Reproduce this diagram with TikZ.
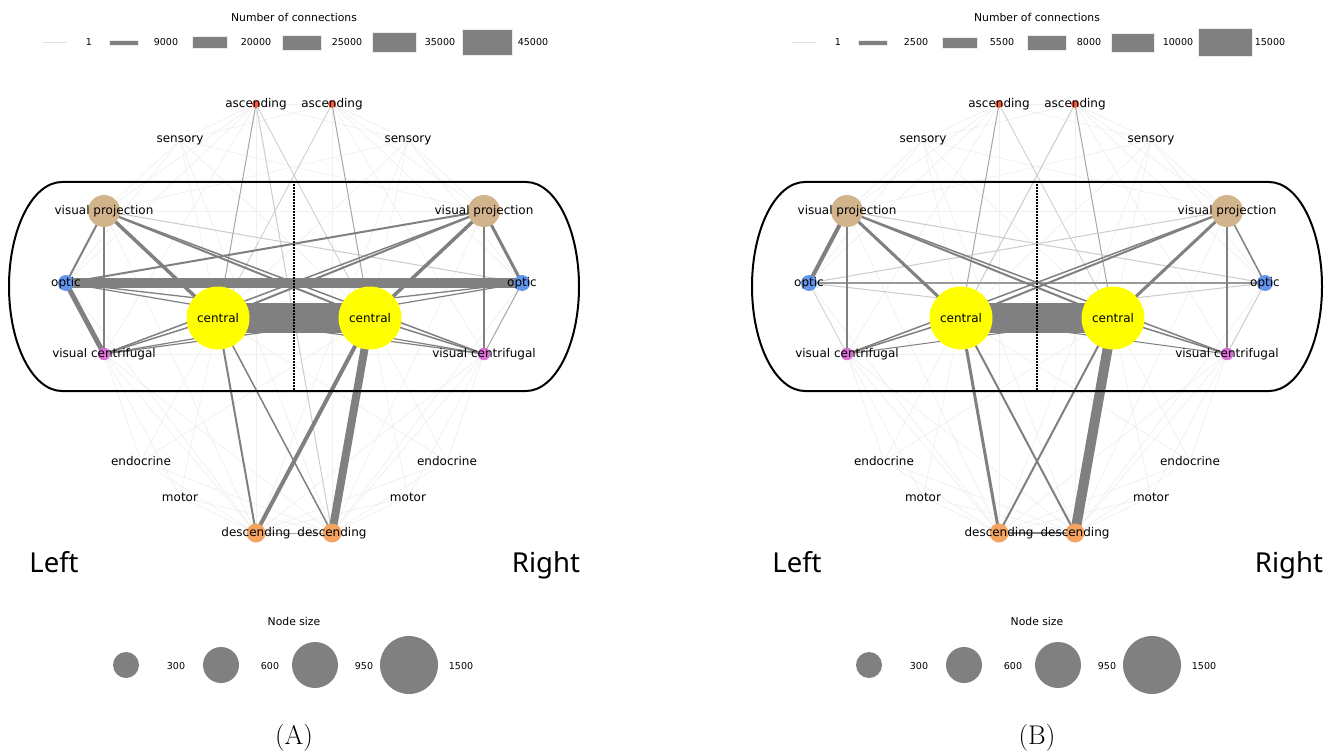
\documentclass[tikz,border=0pt]{standalone}
\usepackage{fontspec}
\newfontfamily\dv{DejaVu Sans}
\newfontfamily\noto{Noto Sans}
\definecolor{eg}{HTML}{808080}
\definecolor{sg}{HTML}{A6A6A6}
\definecolor{lgc}{HTML}{CCCCCC}
\definecolor{fgc}{HTML}{F0F0F0}
\definecolor{ascc}{HTML}{F25C3C}
\definecolor{vpc}{HTML}{D2B48C}
\definecolor{optc}{HTML}{6495ED}
\definecolor{cenc}{HTML}{FFFF00}
\definecolor{vcc}{HTML}{DA70D6}
\definecolor{desc}{HTML}{F4A460}
\pgfdeclarelayer{bglayer}
\pgfdeclarelayer{edgelayer}
\pgfsetlayers{bglayer,edgelayer,main}
\tikzset{
  nd/.style={circle,inner sep=0pt,minimum size=#1,draw=none},
  lbl/.style={font=\dv\fontsize{12}{14}\selectfont,inner sep=0pt,text=black},
  ttl/.style={font=\dv\fontsize{10.8}{13}\selectfont,inner sep=0pt,text=black},
  num/.style={font=\dv\fontsize{9.5}{11}\selectfont,inner sep=0pt,text=black},
  side/.style={font=\noto\fontsize{27.5}{32}\selectfont,inner sep=0pt,anchor=base,text=black},
  capt/.style={font=\fontsize{27}{32}\selectfont,inner sep=0pt,text=black},
  ed/.style={draw=eg,line width=#1pt},
  se/.style={draw=sg,line width=#1pt},
  le/.style={draw=lgc,line width=#1pt},
  fe/.style={draw=fgc,line width=0.7pt},
  lgbar/.style={fill=eg,draw=white!85!eg,line width=0.6pt},
  lgdot/.style={circle,inner sep=0pt,minimum size=#1,fill=eg,draw=none},
  frame/.style={draw=black,line width=2pt},
  midline/.style={draw=black,line width=1.6pt,dash pattern=on 1.6pt off 1.4pt}
}
\newcommand\cnx[4]{\draw[#4] (#1#2.center) -- (#1#3.center);}
\newcommand\netnodes[1]{%
  \node[nd=8pt,fill=ascc] (#1aL) at (256,104) {};
  \node[nd=8pt,fill=ascc] (#1aR) at (332,104) {};
  \node[nd=32pt,fill=vpc] (#1vpL) at (104,211) {};
  \node[nd=32pt,fill=vpc] (#1vpR) at (484,211) {};
  \node[nd=16pt,fill=optc] (#1oL) at (66,283) {};
  \node[nd=16pt,fill=optc] (#1oR) at (522,283) {};
  \node[nd=63pt,fill=cenc] (#1cL) at (218,318) {};
  \node[nd=63pt,fill=cenc] (#1cR) at (370,318) {};
  \node[nd=12.5pt,fill=vcc] (#1vcL) at (104,354) {};
  \node[nd=12.5pt,fill=vcc] (#1vcR) at (484,354) {};
  \node[nd=19pt,fill=desc] (#1dL) at (256,533) {};
  \node[nd=19pt,fill=desc] (#1dR) at (332,533) {};
  \node[lbl] (#1aLt) at (#1aL) {ascending};
  \node[lbl] (#1aRt) at (#1aR) {ascending};
  \node[lbl] (#1sL) at (180,140) {sensory};
  \node[lbl] (#1sR) at (408,140) {sensory};
  \node[lbl] (#1vpLt) at (#1vpL) {visual projection};
  \node[lbl] (#1vpRt) at (#1vpR) {visual projection};
  \node[lbl] (#1oLt) at (#1oL) {optic};
  \node[lbl] (#1oRt) at (#1oR) {optic};
  \node[lbl] (#1cLt) at (#1cL) {central};
  \node[lbl] (#1cRt) at (#1cR) {central};
  \node[lbl] (#1vcLt) at (#1vcL) {visual centrifugal};
  \node[lbl] (#1vcRt) at (#1vcR) {visual centrifugal};
  \node[lbl] (#1eL) at (141,461) {endocrine};
  \node[lbl] (#1eR) at (447,461) {endocrine};
  \node[lbl] (#1mL) at (180,497) {motor};
  \node[lbl] (#1mR) at (408,497) {motor};
  \node[lbl] (#1dLt) at (#1dL) {descending};
  \node[lbl] (#1dRt) at (#1dR) {descending};
  \node[side] (#1left) at (54,572) {Left};
  \node[side] (#1right) at (546,572) {Right};
  \draw[frame] (62,182) -- (526,182) .. controls (555.3,182) and (579,228.8) .. (579,286.5)
     .. controls (579,344.2) and (555.3,391) .. (526,391) -- (62,391)
     .. controls (32.7,391) and (9,344.2) .. (9,286.5)
     .. controls (9,228.8) and (32.7,182) .. (62,182) -- cycle;
  \draw[midline] (294,184) -- (294,390);
  \node[ttl] (#1nst) at (294,621) {Node size};
  \node[lgdot=26pt] (#1ns1) at (126,665) {};
  \node[num] (#1ns1t) at (176,666) {300};
  \node[lgdot=36pt] (#1ns2) at (221,665) {};
  \node[num] (#1ns2t) at (270,666) {600};
  \node[lgdot=46pt] (#1ns3) at (315,665) {};
  \node[num] (#1ns3t) at (364,666) {950};
  \node[lgdot=58pt] (#1ns4) at (409,665) {};
  \node[num] (#1ns4t) at (461,666) {1500};
  \node[ttl] (#1nct) at (294,17) {Number of connections};
}
\newcommand\faintedges[1]{%
  \foreach \u/\v in {aL/aR,aL/sL,aR/sR,aL/sR,aR/sL,aL/vpL,aR/vpR,sL/vpL,sR/vpR,sL/cL,sR/cR,sL/cR,sR/cL,sL/vpR,sR/vpL,aL/dL,aR/dR,aL/vcL,aR/vcR,eL/cL,eR/cR,eL/cR,eR/cL,mL/cL,mR/cR,mL/dL,mR/dR,mL/dR,mR/dL,eL/dL,eR/dR,eL/dR,eR/dL,vpL/vpR,vcL/vcR,vcL/dL,vcR/dR,vcL/dR,vcR/dL,oL/dL,oR/dR,vpL/dL,vpR/dR,eL/vcL,eR/vcR,sL/oL,sR/oR,aL/oL,aR/oR,mL/vcL,mR/vcR,sL/dR,sR/dL}
    {\draw[fe] (#1\u.center) -- (#1\v.center);}
}
\begin{document}
\begin{tikzpicture}[x=1pt,y=-1pt]
\useasboundingbox (0,0) rectangle (1338,754);
\begin{pgfonlayer}{bglayer}
\fill[white] (0,0) rectangle (1338,754);
\end{pgfonlayer}

% ---------------- Panel A ----------------
\netnodes{A-}
\node[capt] (A-cap) at (294,738) {(A)};
\draw[draw=black!12,line width=1pt] (43,42.5) -- (67,42.5);
\node[num] (A-l1) at (89,42.5) {1};
\filldraw[lgbar] (109,40.3) rectangle (138,45);
\node[num] (A-l2) at (166,42.5) {9000};
\filldraw[lgbar] (192,36.7) rectangle (227,48.3);
\node[num] (A-l3) at (256,42.5) {20000};
\filldraw[lgbar] (282,35.3) rectangle (321,50);
\node[num] (A-l4) at (347,42.5) {25000};
\filldraw[lgbar] (372,32.3) rectangle (416,52.7);
\node[num] (A-l5) at (440,42.5) {35000};
\filldraw[lgbar] (462,29.7) rectangle (512,55.7);
\node[num] (A-l6) at (533,42.5) {45000};
\begin{pgfonlayer}{edgelayer}
\faintedges{A-}
\cnx{A-}{vpL}{oR}{le=1}
\cnx{A-}{oR}{vcR}{se=1}
\cnx{A-}{aL}{cL}{se=1}
\cnx{A-}{aR}{cR}{se=1}
\cnx{A-}{aL}{dR}{le=1}
\cnx{A-}{dL}{dR}{se=1}
\cnx{A-}{aR}{cL}{le=0.8}
\cnx{A-}{aL}{cR}{le=0.8}
\cnx{A-}{oL}{oR}{ed=10}
\cnx{A-}{cL}{cR}{ed=30}
\cnx{A-}{vpL}{oL}{ed=2}
\cnx{A-}{vpL}{vcL}{ed=2}
\cnx{A-}{vpL}{cL}{ed=3.5}
\cnx{A-}{vpL}{cR}{ed=2}
\cnx{A-}{vpL}{vcR}{ed=1.5}
\cnx{A-}{oL}{vcL}{ed=5}
\cnx{A-}{oL}{vpR}{ed=2}
\cnx{A-}{oL}{cR}{ed=1.3}
\cnx{A-}{oL}{vcR}{ed=1.2}
\cnx{A-}{vcL}{cL}{ed=1.5}
\cnx{A-}{vcL}{cR}{ed=1.2}
\cnx{A-}{vpR}{oR}{ed=3}
\cnx{A-}{vpR}{vcR}{ed=2}
\cnx{A-}{vpR}{cR}{ed=3.5}
\cnx{A-}{vpR}{cL}{ed=2}
\cnx{A-}{vpR}{vcL}{ed=1.5}
\cnx{A-}{oR}{cL}{ed=1.3}
\cnx{A-}{oR}{vcL}{ed=1.2}
\cnx{A-}{vcR}{cR}{ed=1.5}
\cnx{A-}{vcR}{cL}{ed=1.2}
\cnx{A-}{cL}{dL}{ed=2}
\cnx{A-}{cL}{dR}{ed=1.5}
\cnx{A-}{cR}{dL}{ed=4}
\cnx{A-}{cR}{dR}{ed=8}
\end{pgfonlayer}

% ---------------- Panel B ----------------
\begin{scope}[xshift=743pt]
\netnodes{B-}
\node[capt] (B-cap) at (294,738) {(B)};
\end{scope}
\draw[draw=black!12,line width=1pt] (792,42.5) -- (816,42.5);
\node[num] (B-l1) at (838,42.5) {1};
\filldraw[lgbar] (858,40.3) rectangle (887,45);
\node[num] (B-l2) at (916,42.5) {2500};
\filldraw[lgbar] (942,37.3) rectangle (977,48.3);
\node[num] (B-l3) at (1002,42.5) {5500};
\filldraw[lgbar] (1027,35) rectangle (1066,50.7);
\node[num] (B-l4) at (1089,42.5) {8000};
\filldraw[lgbar] (1111,33) rectangle (1154,52.3);
\node[num] (B-l5) at (1178,42.5) {10000};
\filldraw[lgbar] (1198,28.3) rectangle (1252,56.7);
\node[num] (B-l6) at (1270,42.5) {15000};
\begin{pgfonlayer}{edgelayer}
\faintedges{B-}
\cnx{B-}{aL}{cL}{se=1}
\cnx{B-}{aR}{cR}{se=1}
\cnx{B-}{vpL}{oR}{le=1}
\cnx{B-}{oL}{vpR}{le=1}
\cnx{B-}{oR}{vcR}{le=1}
\cnx{B-}{oL}{vcL}{le=0.8}
\cnx{B-}{oL}{cR}{le=1}
\cnx{B-}{oR}{cL}{le=1}
\cnx{B-}{aR}{cL}{le=1}
\cnx{B-}{aL}{cR}{le=0.8}
\cnx{B-}{oL}{oR}{draw=black!40,line width=1.5pt}
\cnx{B-}{cL}{cR}{ed=30}
\cnx{B-}{vpL}{oL}{ed=4}
\cnx{B-}{vpL}{vcL}{ed=1.5}
\cnx{B-}{vpL}{cL}{ed=3}
\cnx{B-}{vpL}{cR}{ed=2}
\cnx{B-}{vpL}{vcR}{ed=1.5}
\cnx{B-}{vpR}{oR}{ed=1.5}
\cnx{B-}{vpR}{vcR}{ed=1.5}
\cnx{B-}{vpR}{cR}{ed=3}
\cnx{B-}{vpR}{cL}{ed=2}
\cnx{B-}{vpR}{vcL}{ed=1.5}
\cnx{B-}{vcL}{cL}{ed=1.5}
\cnx{B-}{vcR}{cR}{ed=1.5}
\cnx{B-}{vcL}{cR}{ed=1}
\cnx{B-}{vcR}{cL}{ed=1}
\cnx{B-}{cL}{dL}{ed=3}
\cnx{B-}{cL}{dR}{ed=2}
\cnx{B-}{cR}{dL}{ed=2}
\cnx{B-}{cR}{dR}{ed=10}
\cnx{B-}{dL}{dR}{ed=2}
\end{pgfonlayer}
\end{tikzpicture}
\end{document}
